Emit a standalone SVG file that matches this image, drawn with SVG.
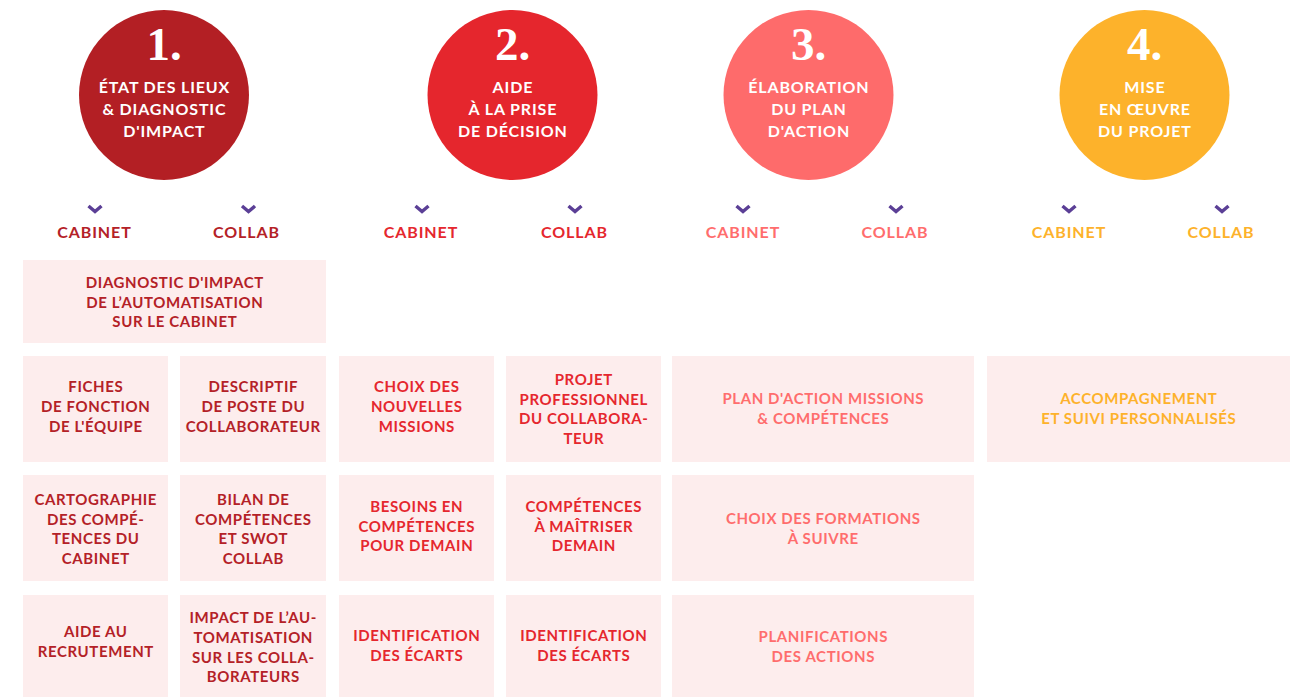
<svg xmlns="http://www.w3.org/2000/svg" xmlns:xlink="http://www.w3.org/1999/xlink" width="1290" height="697" viewBox="0 0 1290 697">
<style>
  .num{font-family:"Liberation Serif","DejaVu Serif",serif;font-weight:700;font-size:47px;fill:#fff;text-anchor:middle}
  .ct{font-family:Lato,"Open Sans",sans-serif;font-weight:700;font-size:16px;letter-spacing:0.85px;fill:#fff;text-anchor:middle}
  .lab{font-family:Lato,"Open Sans",sans-serif;font-weight:700;font-size:16px;letter-spacing:0.9px;text-anchor:middle}
  .bt{font-family:Lato,"Open Sans",sans-serif;font-weight:700;font-size:15px;letter-spacing:0.6px;text-anchor:middle}
  .box{fill:#FDEDED}
  .c1{fill:#B42127}.c2{fill:#E5272E}.c3{fill:#FF6D6D}.c4{fill:#FDB22B}
  .chev{fill:none;stroke:#5B3F96;stroke-width:3.4}
</style>
<defs>
  <path id="chev" class="chev" d="M-6.5,-3 L0,2.6 L6.5,-3"/>
</defs>
<rect width="1290" height="697" fill="#fff"/>

<g id="step1">
  <circle cx="164" cy="95" r="85" fill="#B31F24"/>
  <text class="num" x="164" y="60">1.</text>
  <text class="ct" x="164.4" y="93">ÉTAT DES LIEUX</text>
  <text class="ct" x="164.4" y="115">&amp; DIAGNOSTIC</text>
  <text class="ct" x="164.4" y="137">D'IMPACT</text>
</g>
<g id="step2">
  <circle cx="512.5" cy="95" r="85" fill="#E5262D"/>
  <text class="num" x="512.5" y="60">2.</text>
  <text class="ct" x="512.9" y="93">AIDE</text>
  <text class="ct" x="512.9" y="115">À LA PRISE</text>
  <text class="ct" x="512.9" y="137">DE DÉCISION</text>
</g>
<g id="step3">
  <circle cx="808.5" cy="95" r="85" fill="#FE6B6B"/>
  <text class="num" x="808.5" y="60">3.</text>
  <text class="ct" x="808.9" y="93">ÉLABORATION</text>
  <text class="ct" x="808.9" y="115">DU PLAN</text>
  <text class="ct" x="808.9" y="137">D'ACTION</text>
</g>
<g id="step4">
  <circle cx="1144.5" cy="95" r="85" fill="#FDB22B"/>
  <text class="num" x="1144.5" y="60">4.</text>
  <text class="ct" x="1144.9" y="93">MISE</text>
  <text class="ct" x="1144.9" y="115">EN ŒUVRE</text>
  <text class="ct" x="1144.9" y="137">DU PROJET</text>
</g>

<g id="chevrons">
  <use xlink:href="#chev" x="95" y="209"/>
  <use xlink:href="#chev" x="248.5" y="209"/>
  <use xlink:href="#chev" x="422" y="209"/>
  <use xlink:href="#chev" x="575" y="209"/>
  <use xlink:href="#chev" x="743" y="209"/>
  <use xlink:href="#chev" x="896" y="209"/>
  <use xlink:href="#chev" x="1069" y="209"/>
  <use xlink:href="#chev" x="1222" y="209"/>
</g>

<g id="labels">
  <text class="lab c1" x="94.5" y="238">CABINET</text>
  <text class="lab c1" x="246.5" y="238">COLLAB</text>
  <text class="lab c2" x="421" y="238">CABINET</text>
  <text class="lab c2" x="574.5" y="238">COLLAB</text>
  <text class="lab c3" x="743" y="238">CABINET</text>
  <text class="lab c3" x="895" y="238">COLLAB</text>
  <text class="lab c4" x="1069" y="238">CABINET</text>
  <text class="lab c4" x="1221" y="238">COLLAB</text>
</g>

<g id="box-diagnostic">
  <rect class="box" x="23" y="260" width="303" height="83"/>
  <text class="bt c1" x="174.8" y="288">DIAGNOSTIC D'IMPACT</text>
  <text class="bt c1" x="174.8" y="307.5">DE L’AUTOMATISATION</text>
  <text class="bt c1" x="174.8" y="327">SUR LE CABINET</text>
</g>

<g id="box-fiches">
  <rect class="box" x="23" y="356" width="145" height="106"/>
  <text class="bt c1" x="95.8" y="392">FICHES</text>
  <text class="bt c1" x="95.8" y="412">DE FONCTION</text>
  <text class="bt c1" x="95.8" y="432">DE L'ÉQUIPE</text>
</g>
<g id="box-descriptif">
  <rect class="box" x="180" y="356" width="146" height="106"/>
  <text class="bt c1" x="253.3" y="392">DESCRIPTIF</text>
  <text class="bt c1" x="253.3" y="412">DE POSTE DU</text>
  <text class="bt c1" x="253.3" y="432">COLLABORATEUR</text>
</g>
<g id="box-choix-missions">
  <rect class="box" x="339" y="356" width="155" height="106"/>
  <text class="bt c2" x="416.8" y="392">CHOIX DES</text>
  <text class="bt c2" x="416.8" y="412">NOUVELLES</text>
  <text class="bt c2" x="416.8" y="432">MISSIONS</text>
</g>
<g id="box-projet">
  <rect class="box" x="506" y="356" width="155" height="106"/>
  <text class="bt c2" x="583.8" y="385">PROJET</text>
  <text class="bt c2" x="583.8" y="404.5">PROFESSIONNEL</text>
  <text class="bt c2" x="583.8" y="424">DU COLLABORA-</text>
  <text class="bt c2" x="583.8" y="443.5">TEUR</text>
</g>
<g id="box-plan-action">
  <rect class="box" x="672" y="356" width="302" height="106"/>
  <text class="bt c3" x="823.3" y="404">PLAN D'ACTION MISSIONS</text>
  <text class="bt c3" x="823.3" y="424">&amp; COMPÉTENCES</text>
</g>
<g id="box-accompagnement">
  <rect class="box" x="987" y="356" width="303" height="106"/>
  <text class="bt c4" x="1138.8" y="404">ACCOMPAGNEMENT</text>
  <text class="bt c4" x="1138.8" y="424">ET SUIVI PERSONNALISÉS</text>
</g>

<g id="box-cartographie">
  <rect class="box" x="23" y="475" width="145" height="106"/>
  <text class="bt c1" x="95.8" y="505">CARTOGRAPHIE</text>
  <text class="bt c1" x="95.8" y="524.5">DES COMPÉ-</text>
  <text class="bt c1" x="95.8" y="544">TENCES DU</text>
  <text class="bt c1" x="95.8" y="563.5">CABINET</text>
</g>
<g id="box-bilan">
  <rect class="box" x="180" y="475" width="146" height="106"/>
  <text class="bt c1" x="253.3" y="505">BILAN DE</text>
  <text class="bt c1" x="253.3" y="524.5">COMPÉTENCES</text>
  <text class="bt c1" x="253.3" y="544">ET SWOT</text>
  <text class="bt c1" x="253.3" y="563.5">COLLAB</text>
</g>
<g id="box-besoins">
  <rect class="box" x="339" y="475" width="155" height="106"/>
  <text class="bt c2" x="416.8" y="512">BESOINS EN</text>
  <text class="bt c2" x="416.8" y="531.5">COMPÉTENCES</text>
  <text class="bt c2" x="416.8" y="551">POUR DEMAIN</text>
</g>
<g id="box-competences">
  <rect class="box" x="506" y="475" width="155" height="106"/>
  <text class="bt c2" x="583.8" y="512">COMPÉTENCES</text>
  <text class="bt c2" x="583.8" y="531.5">À MAÎTRISER</text>
  <text class="bt c2" x="583.8" y="551">DEMAIN</text>
</g>
<g id="box-formations">
  <rect class="box" x="672" y="475" width="302" height="106"/>
  <text class="bt c3" x="823.3" y="524">CHOIX DES FORMATIONS</text>
  <text class="bt c3" x="823.3" y="544">À SUIVRE</text>
</g>

<g id="box-recrutement">
  <rect class="box" x="23" y="595" width="145" height="106"/>
  <text class="bt c1" x="95.8" y="637">AIDE AU</text>
  <text class="bt c1" x="95.8" y="657">RECRUTEMENT</text>
</g>
<g id="box-impact">
  <rect class="box" x="180" y="595" width="146" height="106"/>
  <text class="bt c1" x="253.3" y="623">IMPACT DE L’AU-</text>
  <text class="bt c1" x="253.3" y="643">TOMATISATION</text>
  <text class="bt c1" x="253.3" y="662.5">SUR LES COLLA-</text>
  <text class="bt c1" x="253.3" y="682">BORATEURS</text>
</g>
<g id="box-ecarts-cabinet">
  <rect class="box" x="339" y="595" width="155" height="106"/>
  <text class="bt c2" x="416.8" y="641">IDENTIFICATION</text>
  <text class="bt c2" x="416.8" y="660.5">DES ÉCARTS</text>
</g>
<g id="box-ecarts-collab">
  <rect class="box" x="506" y="595" width="155" height="106"/>
  <text class="bt c2" x="583.8" y="641">IDENTIFICATION</text>
  <text class="bt c2" x="583.8" y="660.5">DES ÉCARTS</text>
</g>
<g id="box-planifications">
  <rect class="box" x="672" y="595" width="302" height="106"/>
  <text class="bt c3" x="823.3" y="642">PLANIFICATIONS</text>
  <text class="bt c3" x="823.3" y="661.5">DES ACTIONS</text>
</g>

<g id="connectors"/>
</svg>
